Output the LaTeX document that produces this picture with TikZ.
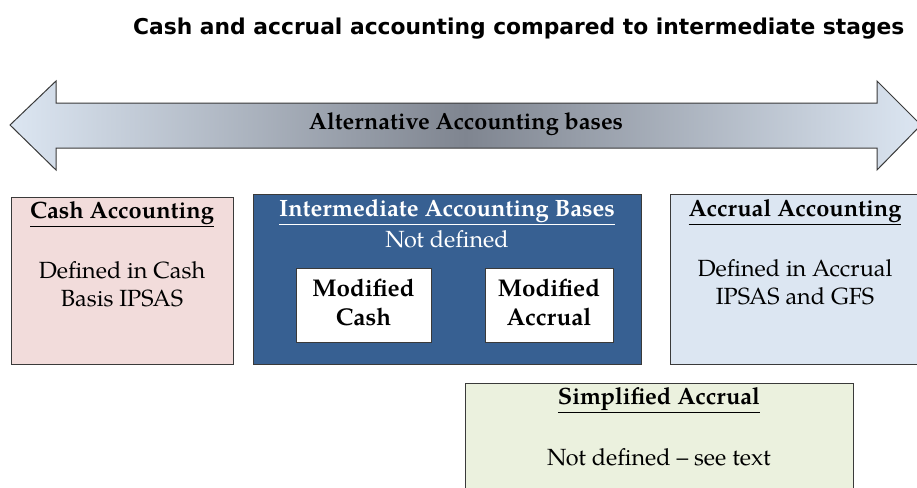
\documentclass[tikz,border=0pt]{standalone}
\usepackage{fontspec}
\setmainfont{TeX Gyre Pagella}
\newfontfamily\titlefont{DejaVu Sans}
\usetikzlibrary{shadows}
\definecolor{arrowlight}{HTML}{DCE6F2}
\definecolor{arrowdark}{HTML}{7F8590}
\definecolor{cashfill}{HTML}{F2DCDB}
\definecolor{interfill}{HTML}{376092}
\definecolor{accrualfill}{HTML}{DCE6F2}
\definecolor{simplefill}{HTML}{EBF1DE}
\definecolor{edge}{HTML}{3A3A3A}
\tikzset{
  basebox/.style={draw=edge, line width=1pt, drop shadow={opacity=0.35, shadow xshift=1.2pt, shadow yshift=-1.2pt}},
  boxtext/.style={font=\fontsize{23.4}{28}\selectfont, align=center, inner sep=0pt},
  headtext/.style={font=\fontsize{23.6}{28}\selectfont\bfseries, inner sep=0pt},
  modtext/.style={font=\fontsize{24.2}{29}\selectfont\bfseries, align=center, inner sep=0pt},
}
\begin{document}
\begin{tikzpicture}[x=1pt,y=-1pt]
\useasboundingbox (0,0) rectangle (917,487);
\clip (0,0) rectangle (917,487);

% title
\node[font=\titlefont\fontsize{21.8}{26}\selectfont\bfseries, anchor=base west, inner sep=0pt] (title) at (133,35) {Cash and accrual accounting compared to intermediate stages};

% double-headed arrow
\shade[draw=edge, line width=1pt, left color=arrowlight, right color=arrowlight, middle color=arrowdark]
  (10,125) -- (56,81) -- (56,103) -- (877,103) -- (877,81) -- (921,125)
  -- (877,170) -- (877,148) -- (56,148) -- (56,170) -- cycle;
\node[font=\fontsize{23.4}{28}\selectfont\bfseries, inner sep=0pt] (axis) at (466,124) {Alternative Accounting bases};

% cash accounting
\filldraw[basebox, fill=cashfill] (11,197) rectangle (233,364);
\node[headtext] (cashhead) at (122,214) {\underline{Cash Accounting}};
\node[boxtext] (cashtext) at (122,284) {Defined in Cash\\Basis IPSAS};

% intermediate bases
\filldraw[basebox, fill=interfill] (253,194) rectangle (641,364);
\node[headtext, text=white] (interhead) at (447,212) {\underline{Intermediate Accounting Bases}};
\node[boxtext, text=white] (intertext) at (447,239) {Not defined};
\filldraw[basebox, fill=white] (296,268) rectangle (431,342);
\node[modtext] (modcash) at (363.5,302) {Modified\\Cash};
\filldraw[basebox, fill=white] (485,268) rectangle (613,342);
\node[modtext] (modacc) at (549,302) {Modified\\Accrual};

% accrual accounting
\filldraw[basebox, fill=accrualfill] (670,194) rectangle (930,364);
\node[headtext] (acchead) at (795,212) {\underline{Accrual Accounting}};
\node[boxtext] (acctext) at (795,282) {Defined in Accrual\\IPSAS and GFS};

% simplified accrual
\filldraw[basebox, fill=simplefill] (465,383) rectangle (853,500);
\node[headtext] (simphead) at (659,400) {\underline{Simplified Accrual}};
\node[boxtext] (simptext) at (659,457) {Not defined -- see text};
\end{tikzpicture}
\end{document}
